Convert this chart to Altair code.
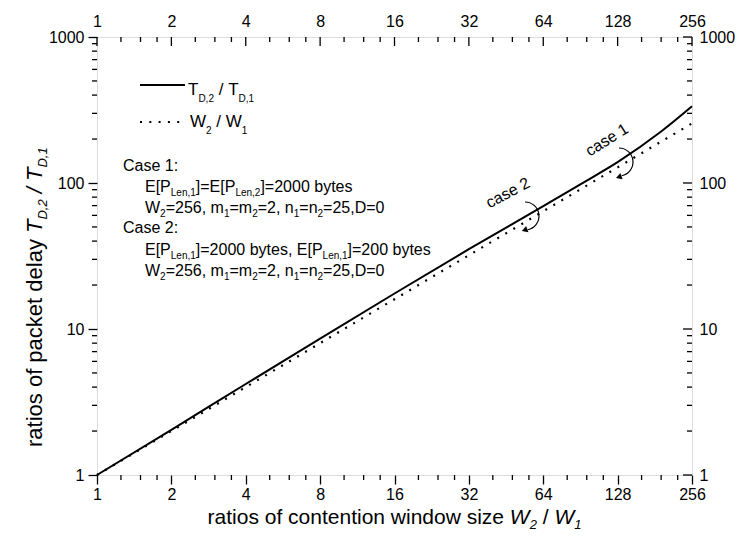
import altair as alt
import pandas as pd
import math

# ---------------- data ----------------
window_ratio = [1, 2, 4, 8, 16, 32, 64, 96, 128, 192, 256]
delay_ratio = [1.0, 2.04, 4.2, 8.6, 17.5, 35.2, 69.5, 104.0, 139.0, 225.0, 335.0]
w_ratio_x = [1, 2, 4, 8, 16, 32, 64, 128, 256]
w_ratio_y = [1, 2, 4, 8, 16, 32, 64, 128, 256]

x_ticks = [1, 2, 4, 8, 16, 32, 64, 128, 256]
x_minor = [b * f for b in [1, 2, 4, 8, 16, 32, 64, 128] for f in (1.25, 1.5, 1.75)]
y_ticks = [1, 10, 100, 1000]
y_minor = [d * k for d in [1, 10, 100] for k in range(2, 10)]

W, H = 595, 438
FONT = "Liberation Sans"
NB = "\u00a0"

# Arial / Liberation Sans advance widths (per 1000 em)
AW = {" ": 278, NB: 278, ",": 278, ".": 278, "/": 278, ":": 278, "=": 584, "[": 278, "]": 278,
      "A": 667, "C": 722, "D": 722, "E": 667, "L": 556, "P": 667, "T": 611, "W": 944,
      "a": 556, "b": 556, "c": 500, "d": 556, "e": 556, "f": 278, "g": 556, "h": 556,
      "i": 222, "k": 500, "l": 222, "m": 833, "n": 556, "o": 556, "p": 556, "r": 333,
      "s": 500, "t": 278, "u": 556, "w": 722, "y": 500, "z": 500}


def tw(s, size):
    return sum(AW.get(c, 556) for c in s) * size / 1000.0


def split_ws(text):
    core = text.strip(" ")
    lead = len(text) - len(text.lstrip(" "))
    return core.replace(" ", NB), " " * lead


def runs_h(runs, x0, y0):
    rows = []
    x = x0
    for text, size, dy, it in runs:
        core, lead = split_ws(text)
        rows.append(dict(px=x + tw(lead, size), py=y0 + dy, t=core, fs=size, it=it))
        x += tw(text, size)
    return rows


def runs_v(runs, x0, y0):
    rows = []
    y = y0
    for text, size, dy, it in runs:
        core, lead = split_ws(text)
        rows.append(dict(px=x0 + dy, py=y - tw(lead, size), t=core, fs=size, it=it))
        y -= tw(text, size)
    return rows


SUB = 10
SD = 4
rows_h = []
# annotation block
rows_h += runs_h([("Case 1:", 16, 0, False)], 26, 134)
rows_h += runs_h([("E[P", 16, 0, False), ("Len,1", SUB, SD, False), ("]=E[P", 16, 0, False),
                  ("Len,2", SUB, SD, False), ("]=2000 bytes", 16, 0, False)], 48, 155)
params_line = [("W", 16, 0, False), ("2", SUB, SD, False), ("=256, m", 16, 0, False), ("1", SUB, SD, False),
               ("=m", 16, 0, False), ("2", SUB, SD, False), ("=2, n", 16, 0, False), ("1", SUB, SD, False),
               ("=n", 16, 0, False), ("2", SUB, SD, False), ("=25,D=0", 16, 0, False)]
rows_h += runs_h(params_line, 48, 176)
rows_h += runs_h([("Case 2:", 16, 0, False)], 26, 196)
rows_h += runs_h([("E[P", 16, 0, False), ("Len,1", SUB, SD, False), ("]=2000 bytes, E[P", 16, 0, False),
                  ("Len,1", SUB, SD, False), ("]=200 bytes", 16, 0, False)], 48, 218)
rows_h += runs_h(params_line, 48, 239)
# legend texts
rows_h += runs_h([("T", 17, 0, False), ("D,2", 10, 7, False), (" / ", 17, 0, False),
                  ("T", 17, 0, False), ("D,1", 10, 7, False)], 91, 58)
rows_h += runs_h([("W", 17, 0, False), ("2", 10, 7, False), (" / ", 17, 0, False),
                  ("W", 17, 0, False), ("1", 10, 7, False)], 93, 90)
# x title
xt = [("ratios of contention window size ", 21, 0, False), ("W", 21, 0, True), ("2", 13, 5, True),
      (" / ", 21, 0, False), ("W", 21, 0, True), ("1", 13, 5, True)]
xt_w = sum(tw(t, s) for t, s, _, _ in xt)
rows_h += runs_h(xt, W / 2 - xt_w / 2, 487)

yt = [("ratios of packet delay ", 22, 0, False), ("T", 22, 0, True), ("D,2", 13, 5, True),
      (" / ", 22, 0, True), ("T", 22, 0, True), ("D,1", 13, 5, True)]
rows_v = runs_v(yt, -55, 410)

df_h = pd.DataFrame(rows_h)
df_v = pd.DataFrame(rows_v)

# ---------------- base layers ----------------
xscale = alt.Scale(type="log", base=2, domain=[1, 256])
yscale = alt.Scale(type="log", base=10, domain=[1, 1000])

axis_common = dict(grid=False, domain=False, labelFont=FONT, labelFontSize=16, labelColor="black",
                   labelFlush=False, labelOverlap=False, title=None, format="d")

df_t = pd.DataFrame({"x": window_ratio, "y": delay_ratio})
df_w = pd.DataFrame({"x": w_ratio_x, "y": w_ratio_y})

solid = alt.Chart(df_t).mark_line(color="black", strokeWidth=2, interpolate="monotone").encode(
    x=alt.X("x:Q", scale=xscale, axis=alt.Axis(values=x_ticks, orient="bottom", tickSize=9, tickWidth=1.3,
                                                tickColor="black", labelPadding=2, **axis_common)),
    y=alt.Y("y:Q", scale=yscale, axis=alt.Axis(values=y_ticks, orient="left", tickSize=9, tickWidth=1.3,
                                                tickColor="black", labelPadding=4, **axis_common)),
)

dotted = alt.Chart(df_w).mark_line(color="black", strokeWidth=2.2, strokeDash=[2, 7.3], strokeCap="butt").encode(
    x=alt.X("x:Q", scale=xscale, axis=alt.Axis(values=x_ticks, orient="top", ticks=False, labelPadding=8,
                                                **axis_common)),
    y=alt.Y("y:Q", scale=yscale, axis=alt.Axis(values=y_ticks, orient="right", ticks=False, labelPadding=7,
                                                **axis_common)),
)

# ---------------- tick marks drawn as rules ----------------
dfx_major = pd.DataFrame({"v": x_ticks})
dfx_minor = pd.DataFrame({"v": x_minor})
dfy_major = pd.DataFrame({"v": y_ticks})
dfy_minor = pd.DataFrame({"v": y_minor})

rule = dict(color="black", strokeWidth=1.3)
xt_top_major = alt.Chart(dfx_major).mark_rule(**rule).encode(
    x=alt.X("v:Q", scale=xscale, axis=None), y=alt.value(0), y2=alt.value(9))
xt_top_minor = alt.Chart(dfx_minor).mark_rule(**rule).encode(
    x=alt.X("v:Q", scale=xscale, axis=None), y=alt.value(0), y2=alt.value(5))
xt_bot_minor = alt.Chart(dfx_minor).mark_rule(**rule).encode(
    x=alt.X("v:Q", scale=xscale, axis=None), y=alt.value(H), y2=alt.value(H + 5))
yt_right_major = alt.Chart(dfy_major).mark_rule(**rule).encode(
    y=alt.Y("v:Q", scale=yscale, axis=None), x=alt.value(W - 9), x2=alt.value(W))
yt_right_minor = alt.Chart(dfy_minor).mark_rule(**rule).encode(
    y=alt.Y("v:Q", scale=yscale, axis=None), x=alt.value(W - 5), x2=alt.value(W))
yt_left_minor = alt.Chart(dfy_minor).mark_rule(**rule).encode(
    y=alt.Y("v:Q", scale=yscale, axis=None), x=alt.value(-5), x2=alt.value(0))

# ---------------- legend samples ----------------
leg_solid = alt.Chart(pd.DataFrame({"a": [0]})).mark_rule(color="black", strokeWidth=2).encode(
    x=alt.value(43), x2=alt.value(88), y=alt.value(48))
leg_dot = alt.Chart(pd.DataFrame({"a": [0]})).mark_rule(color="black", strokeWidth=2.2,
                                                         strokeDash=[2, 7.3], strokeCap="butt").encode(
    x=alt.value(43), x2=alt.value(86), y=alt.value(85))

# ---------------- text ----------------
def text_layer(df, italic, angle=0):
    sub = df[df["it"] == italic]
    kw = dict(font=FONT, color="black", align="left", baseline="alphabetic")
    if italic:
        kw["fontStyle"] = "italic"
    if angle:
        kw["angle"] = angle
    return alt.Chart(sub).mark_text(**kw).encode(
        x=alt.X("px:Q", scale=None, axis=None),
        y=alt.Y("py:Q", scale=None, axis=None),
        size=alt.Size("fs:Q", scale=None, legend=None),
        text="t:N",
    )

texts = [text_layer(df_h, False), text_layer(df_h, True),
         text_layer(df_v, False, 270), text_layer(df_v, True, 270)]

case_labels = pd.DataFrame({"px": [510, 411], "py": [103, 156], "t": ["case" + NB + "1", "case" + NB + "2"],
                            "ang": [328, 332]})
case_layers = [
    alt.Chart(case_labels.iloc[[i]]).mark_text(font=FONT, fontSize=16, color="black", align="center",
                                               baseline="middle", angle=int(case_labels["ang"][i])).encode(
        x=alt.X("px:Q", scale=None, axis=None), y=alt.Y("py:Q", scale=None, axis=None), text="t:N")
    for i in range(2)
]

arcs = pd.DataFrame({"cx": [522, 428], "cy": [125, 179], "r": [14, 13]})
arc_layer = alt.Chart(arcs).mark_arc(fillOpacity=0, stroke="black", strokeWidth=1.2).encode(
    x=alt.X("cx:Q", scale=None, axis=None), y=alt.Y("cy:Q", scale=None, axis=None),
    radius=alt.value(14), radius2=alt.value(14), theta=alt.value(0), theta2=alt.value(2.95))

heads = pd.DataFrame({
    "hx": [c + r * math.sin(2.95) - 2 for c, r in zip(arcs["cx"], arcs["r"])],
    "hy": [c + r * (-math.cos(2.95)) + 1 for c, r in zip(arcs["cy"], arcs["r"])],
})
head_layer = alt.Chart(heads).mark_point(shape="triangle", filled=True, color="black", size=45,
                                         angle=250, opacity=1).encode(
    x=alt.X("hx:Q", scale=None, axis=None), y=alt.Y("hy:Q", scale=None, axis=None))

chart = alt.layer(
    solid, dotted,
    xt_top_major, xt_top_minor, xt_bot_minor, yt_right_major, yt_right_minor, yt_left_minor,
    leg_solid, leg_dot, *texts, *case_layers, arc_layer, head_layer,
).resolve_axis(x="independent", y="independent").properties(
    width=W, height=H,
    autosize=alt.AutoSizeParams(type="none"),
    padding={"left": 89, "top": 29, "right": 46, "bottom": 68},
).configure_view(stroke="black", strokeWidth=1.6).configure(background="white")

chart.save("out.html", embed_options={"renderer": "svg", "actions": False})
